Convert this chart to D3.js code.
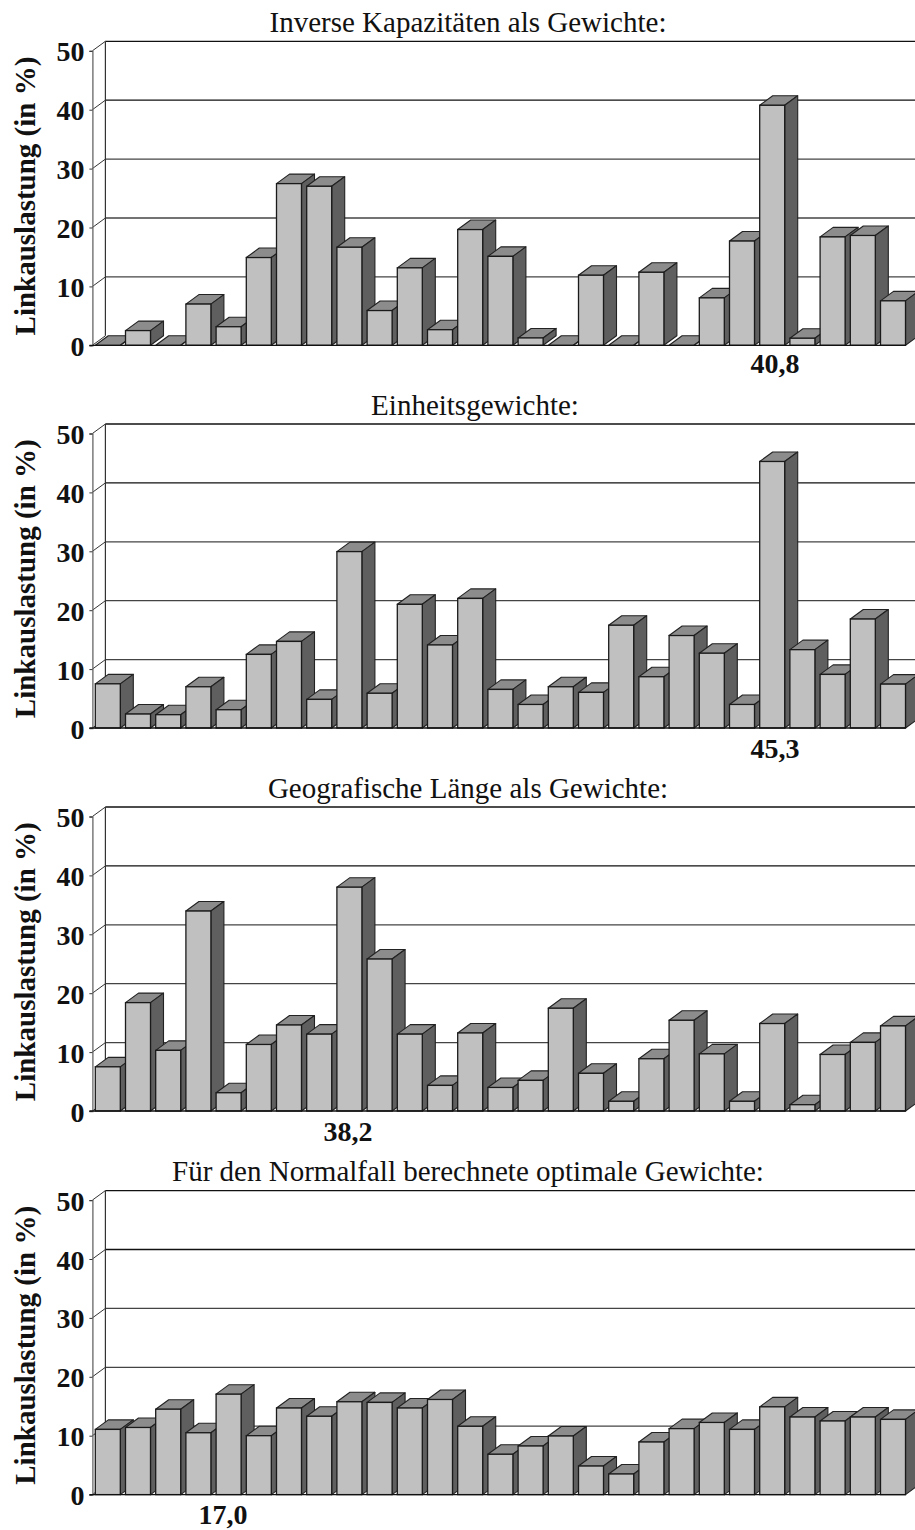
<!DOCTYPE html>
<html><head><meta charset="utf-8">
<script src="https://cdn.jsdelivr.net/npm/d3@7"></script>
<style>html,body{margin:0;padding:0;background:#fff}svg{display:block}</style>
</head><body><svg id="c" width="915" height="1530"></svg>
<script>
const titles=["Inverse Kapazitäten als Gewichte:","Einheitsgewichte:","Geografische Länge als Gewichte:","Für den Normalfall berechnete optimale Gewichte:"];
const maxLabels=["40,8","45,3","38,2","17,0"];
const yTitle="Linkauslastung (in %)";
const yTicks=[0,10,20,30,40,50];
const series1=[0,2.5,0,7,3.15,14.9,27.45,27,16.65,5.9,13.15,2.65,19.65,15.1,1.25,0,11.9,0,12.4,0,8.05,17.7,40.75,1.2,18.4,18.65,7.55];
const series2=[7.5,2.37,2.26,7,3.1,12.5,14.7,4.86,29.95,5.9,21,14.1,22,6.55,4,7,6.05,17.45,8.7,15.7,12.7,4,45.25,13.3,9.1,18.5,7.45];
const series3=[7.5,18.4,10.3,33.95,3.1,11.3,14.6,13.05,38,25.8,13.05,4.35,13.25,4,5.2,17.45,6.4,1.65,8.87,15.4,9.7,1.65,14.85,1.07,9.6,11.65,14.45];
const series4=[11.07,11.4,14.5,10.5,17.05,10,14.7,13.3,15.76,15.65,14.7,16.15,11.6,6.85,8.25,9.95,4.85,3.5,8.93,11.2,12.25,11.07,14.9,13.17,12.5,13.17,12.77];
const allSeries=[series1,series2,series3,series4];
const baseY=[345.3,728,1111,1494.6];
const titleX=[468,475,468,468];
const titleY=[31.5,415,798,1181];
const maxX=[775,775,348,223];
const maxY=[373,758,1141,1524];
const categories=d3.range(27);

const svg=d3.select("#c");
const depthX=13,depthY=9.5,axisX=92.4;
const x=d3.scaleBand().domain(categories).range([95.3,95.3+26*30.2+25]).paddingInner(5.2/30.2).paddingOuter(0).align(0);
const bw=x.bandwidth();
const serif="'Liberation Serif','Times New Roman',serif";

allSeries.forEach((vals,k)=>{
  const b=baseY[k];
  const y=d3.scaleLinear().domain([0,50]).range([b,b-294.5]);
  const g=svg.append("g");
  g.append("text").attr("x",titleX[k]).attr("y",titleY[k]).attr("text-anchor","middle")
    .attr("font-family",serif).attr("font-size",29).attr("fill","#111").text(titles[k]);
  // back wall and gridlines
  g.selectAll(".grid").data(yTicks.filter(t=>t>0)).join("line")
    .attr("x1",axisX+depthX).attr("x2",915)
    .attr("y1",d=>y(d)-depthY).attr("y2",d=>y(d)-depthY)
    .attr("stroke",d=>d===50||d===40?"#111":"#444").attr("stroke-width",1.3);
  g.append("line").attr("x1",axisX+depthX).attr("x2",axisX+depthX)
    .attr("y1",y(50)-depthY).attr("y2",y(0)-depthY).attr("stroke","#333").attr("stroke-width",1.2);
  // side diagonals
  g.selectAll(".diag").data(yTicks).join("line")
    .attr("x1",axisX).attr("x2",axisX+depthX)
    .attr("y1",d=>y(d)).attr("y2",d=>y(d)-depthY)
    .attr("stroke","#333").attr("stroke-width",1);
  // front axis
  const ax=g.append("g").attr("transform",`translate(${axisX},0)`)
    .call(d3.axisLeft(y).tickValues(yTicks).tickSize(3).tickPadding(5));
  ax.select(".domain").attr("stroke","#666").attr("stroke-width",1.3);
  ax.selectAll(".tick line").attr("stroke","#333").attr("stroke-width",1);
  ax.selectAll(".tick text").attr("font-family",serif).attr("font-weight","bold")
    .attr("font-size",28).attr("fill","#111").attr("dy","0.36em");
  // bars
  const bars=g.selectAll(".bar").data(vals).join("g");
  bars.append("path").attr("fill","#8c8c8c").attr("stroke","#222").attr("stroke-width",1.1)
    .attr("stroke-linejoin","round")
    .attr("d",(d,i)=>{const l=x(i),t=y(d);return `M${l},${t}L${l+depthX},${t-depthY}L${l+bw+depthX},${t-depthY}L${l+bw},${t}Z`;});
  bars.append("path").attr("fill","#5f5f5f").attr("stroke","#222").attr("stroke-width",1.1)
    .attr("stroke-linejoin","round")
    .attr("d",(d,i)=>{const r=x(i)+bw,t=y(d);return `M${r},${t}L${r+depthX},${t-depthY}L${r+depthX},${b-depthY}L${r},${b}Z`;});
  bars.append("rect").attr("fill","#c0c0c0").attr("stroke","#1a1a1a").attr("stroke-width",1.3)
    .attr("x",(d,i)=>x(i)).attr("width",bw).attr("y",d=>y(d)).attr("height",d=>b-y(d));
  // front floor edge
  g.append("line").attr("x1",axisX-3).attr("x2",x(26)+bw).attr("y1",b).attr("y2",b)
    .attr("stroke","#111").attr("stroke-width",1.3);
  // maximum label
  g.append("text").attr("x",maxX[k]).attr("y",maxY[k]).attr("text-anchor","middle")
    .attr("font-family",serif).attr("font-weight","bold").attr("font-size",28).attr("fill","#111").text(maxLabels[k]);
  // y title
  g.append("text").attr("transform",`translate(35,${y(25)-2}) rotate(-90)`).attr("text-anchor","middle")
    .attr("font-family",serif).attr("font-weight","bold").attr("font-size",29).attr("fill","#111").text(yTitle);
});
</script></body></html>
